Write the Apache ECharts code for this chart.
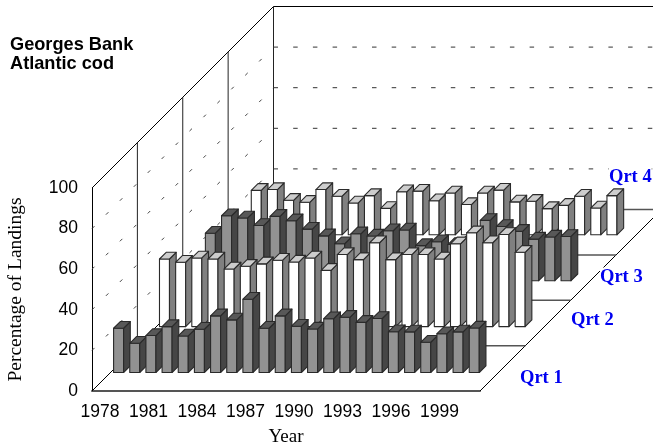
<!DOCTYPE html>
<html>
    <head>
        <meta charset="utf-8">
        <script src="https://cdn.jsdelivr.net/npm/echarts@6/dist/echarts.min.js"></script>
    </head>
    <body style="margin: 0; background: #fff;">
        <div id="main" style="width: 653px; height: 445px;"></div>
        <script>

            var years = ['1978', '1979', '1980', '1981', '1982', '1983', '1984', '1985', '1986', '1987', '1988', '1989',
                '1990', '1991', '1992', '1993', '1994', '1995', '1996', '1997', '1998', '1999', '2000', ''];
            var quarters = ['Qrt 1', 'Qrt 2', 'Qrt 3', 'Qrt 4'];

            var qrt1 = [21.8, 14.4, 18.2, 22.6, 18, 21.3, 27.9, 25.9, 36.1, 21.8, 27.9, 22.8, 21.4, 26.5, 27.2, 24.7, 26.6, 20.1, 20, 14.9, 19.1, 20, 21.9];
            var qrt2 = [33.3, 31.7, 33.8, 33.3, 28.4, 29.7, 30.9, 32.7, 31.8, 33.8, 27.7, 35.5, 33, 41.3, 33, 35.5, 35.5, 33.3, 40.8, 46.2, 41.3, 45.4, 36.6];
            var qrt3 = [23.4, 32, 30.9, 27.2, 31.7, 29.5, 25.4, 22.1, 18.2, 23.1, 22, 24.6, 25, 17.3, 19.2, 17.8, 21, 29.7, 26.7, 24.3, 20.5, 21.5, 21.8];
            var qrt4 = [21.9, 22.3, 17, 16, 22.3, 19, 15.7, 19.3, 13, 21.2, 21.5, 16.8, 20.6, 14.9, 20.6, 22, 16.2, 16.5, 12.9, 14.5, 19, 13.2, 19.3];

            // oblique projection of the floor, depth goes up and to the right
            var DEPTH = 181.5;
            var DEPTH_STEP = DEPTH / 4;
            var BAR_WIDTH = 10;
            var BAR_DEPTH = 6.7;
            var OUTLINE = '#2a2a2a';

            var darkBar = { front: '#929292', top: '#585858', side: '#464646' };
            var whiteBar = { front: '#fff', top: '#cdcdcd', side: '#808080' };

            var chart = echarts.init(document.getElementById('main'));

            function line(x1, y1, x2, y2, style) {
                return {
                    type: 'line',
                    shape: { x1: x1, y1: y1, x2: x2, y2: y2 },
                    style: style
                };
            }

            function face(points, color) {
                return {
                    type: 'polygon',
                    shape: { points: points },
                    style: { fill: color, stroke: OUTLINE, lineWidth: 1.1, lineJoin: 'round' }
                };
            }

            function renderFrame(params, api) {
                var rect = params.coordSys;
                var left = rect.x;
                var right = rect.x + rect.width;
                var bottom = rect.y + rect.height;
                var top = rect.y;
                var solid = { stroke: '#000', lineWidth: 1 };
                var dashedBack = { stroke: '#333', lineWidth: 1, lineDash: [4.5, 15.2] };
                var dashedWall = { stroke: '#444', lineWidth: 1, lineDash: [3.5, 16.2] };
                var floorLine = { stroke: '#555', lineWidth: 1.5 };
                var children = [];

                children.push(line(left, top, left + DEPTH, top - DEPTH, solid));
                children.push(line(left + DEPTH, top - DEPTH, 700, top - DEPTH, solid));
                children.push(line(left, bottom, left + DEPTH, bottom - DEPTH, solid));
                children.push(line(right, bottom, right + DEPTH, bottom - DEPTH, solid));

                for (var k = 1; k <= 4; k++) {
                    var d = DEPTH_STEP * k;
                    children.push(line(left + d, top - d, left + d, bottom - d, { stroke: '#222', lineWidth: 1 }));
                    children.push(line(left + d, bottom - d, right + d, bottom - d, floorLine));
                }

                for (var v = 20; v < 100; v += 20) {
                    var y = api.coord([0, v])[1];
                    children.push(line(left, y, left + DEPTH, y - DEPTH, dashedWall));
                    children.push(line(left + DEPTH, y - DEPTH, 700, y - DEPTH, dashedBack));
                }

                return { type: 'group', children: children };
            }

            function barRenderer(quarter, colors) {
                var offset = 18.5 + 45.9 * quarter;
                return function (params, api) {
                    var base = api.coord([api.value(0), 0]);
                    var head = api.coord([api.value(0), api.value(1)]);
                    var x0 = base[0] + offset - BAR_WIDTH / 2;
                    var x1 = x0 + BAR_WIDTH;
                    var y0 = base[1] - offset;
                    var y1 = head[1] - offset;
                    var d = BAR_DEPTH;
                    return {
                        type: 'group',
                        children: [
                            face([[x0, y0], [x1, y0], [x1, y1], [x0, y1]], colors.front),
                            face([[x1, y0], [x1 + d, y0 - d], [x1 + d, y1 - d], [x1, y1]], colors.side),
                            face([[x0, y1], [x1, y1], [x1 + d, y1 - d], [x0 + d, y1 - d]], colors.top)
                        ]
                    };
                };
            }

            function barSeries(name, quarter, values, colors) {
                return {
                    name: name,
                    type: 'custom',
                    z: 8 - quarter,
                    renderItem: barRenderer(quarter, colors),
                    encode: { x: 0, y: 1 },
                    data: values.map(function (val, i) {
                        return [i, val];
                    })
                };
            }

            var quarterLabels = [[520, 378], [571, 320], [600, 277], [609, 177]].map(function (pos, i) {
                return {
                    type: 'text',
                    x: pos[0],
                    y: pos[1],
                    z: 20,
                    style: {
                        text: quarters[i],
                        fill: '#0000f0',
                        font: 'bold 18.5px "Liberation Serif"',
                        backgroundColor: '#fff',
                        verticalAlign: 'middle'
                    }
                };
            });

            chart.setOption({
                animation: false,
                backgroundColor: '#fff',
                title: {
                    text: 'Georges Bank\nAtlantic cod',
                    left: 10,
                    top: 35,
                    padding: 0,
                    textStyle: {
                        fontFamily: 'Liberation Sans',
                        fontSize: 18.2,
                        fontWeight: 'bold',
                        lineHeight: 19.5,
                        color: '#000'
                    }
                },
                grid: {
                    left: 92,
                    top: 188,
                    width: 388,
                    height: 203,
                    outerBoundsMode: 'none'
                },
                xAxis: {
                    type: 'category',
                    data: years,
                    name: 'Year',
                    nameLocation: 'middle',
                    nameGap: 37,
                    nameTextStyle: { fontFamily: 'Liberation Serif', fontSize: 19, color: '#000' },
                    axisLine: { lineStyle: { color: '#555', width: 2 } },
                    axisTick: { show: false },
                    axisLabel: {
                        interval: 2,
                        margin: 12,
                        fontFamily: 'Liberation Sans',
                        fontSize: 17.5,
                        color: '#000'
                    }
                },
                yAxis: {
                    type: 'value',
                    min: 0,
                    max: 100,
                    interval: 20,
                    name: 'Percentage of Landings',
                    nameLocation: 'middle',
                    nameGap: 66,
                    nameTextStyle: { fontFamily: 'Liberation Serif', fontSize: 19.5, color: '#000' },
                    splitLine: { show: false },
                    axisTick: { show: false },
                    axisLine: { show: true, lineStyle: { color: '#000', width: 1 } },
                    axisLabel: {
                        margin: 14,
                        fontFamily: 'Liberation Sans',
                        fontSize: 17.5,
                        color: '#000'
                    }
                },
                graphic: quarterLabels,
                series: [
                    {
                        type: 'custom',
                        z: 1,
                        silent: true,
                        renderItem: renderFrame,
                        encode: { x: 0, y: 1 },
                        data: [[0, 0]]
                    },
                    barSeries(quarters[3], 3, qrt4, whiteBar),
                    barSeries(quarters[2], 2, qrt3, darkBar),
                    barSeries(quarters[1], 1, qrt2, whiteBar),
                    barSeries(quarters[0], 0, qrt1, darkBar)
                ]
            });

        </script>
    </body>
</html>
